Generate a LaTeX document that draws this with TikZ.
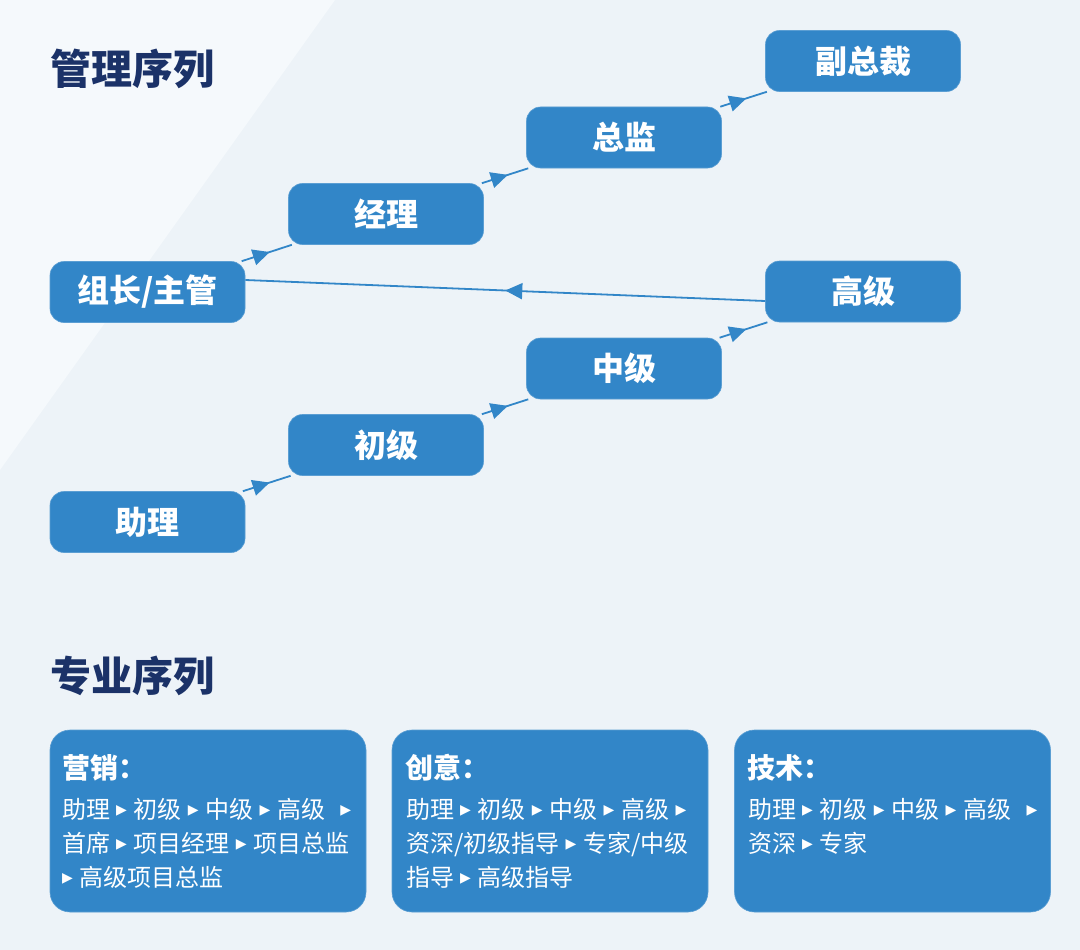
\documentclass[tikz,border=0pt]{standalone}
\usepackage{fontspec}
\setmainfont{Noto Sans CJK SC}
\newfontfamily\symfont{DejaVu Sans}
\usetikzlibrary{arrows.meta,decorations.markings,calc}
\definecolor{bgA}{HTML}{EDF3F8}
\definecolor{bgB}{HTML}{F5F9FC}
\definecolor{boxblue}{HTML}{3286C8}
\definecolor{navy}{HTML}{1B3268}
\newcommand\tri{\hspace{6pt}\raisebox{4pt}{\fontsize{14pt}{14pt}\selectfont\symfont ▶}\hspace{7pt}}
\begin{document}
\begin{tikzpicture}[x=1pt,y=-1pt,
  mgr/.style={fill=boxblue, draw=boxblue!80!white, line width=0.6pt, rounded corners=14pt,
    minimum width=195pt, minimum height=61pt, inner sep=0pt, text=white,
    font=\fontsize{32pt}{32pt}\selectfont\bfseries},
  link/.style={draw=boxblue, color=boxblue, line width=1.8pt, postaction={decorate},
    decoration={markings, mark=at position #1 with {\arrow{Triangle[length=17pt,width=16pt]}}}},
  link/.default=0.56,
  sect/.style={text=navy, inner sep=0pt, anchor=west, font=\fontsize{41pt}{41pt}\selectfont\bfseries},
  pbox/.style={fill=boxblue, draw=boxblue!80!white, line width=0.6pt, rounded corners=20pt,
    minimum width=316pt, minimum height=182pt, inner sep=0pt},
  ptitle/.style={text=white, inner sep=0pt, anchor=base west, font=\fontsize{28pt}{28pt}\selectfont\bfseries},
  pline/.style={text=white, inner sep=0pt, anchor=base west, font=\fontsize{24pt}{34pt}\selectfont}
]
\useasboundingbox (0,0) rectangle (1080,950);
\fill[bgA] (0,0) rectangle (1080,950);
\fill[bgB] (0,0) -- (335,0) -- (0,470) -- cycle;

% section titles
\node[sect] (t1) at (50,69) {管理序列};
\node[sect] (t2) at (50,676) {专业序列};

% management ladder
\node[mgr] (zz) at (147.5,292) {组长/主管};
\node[mgr] (jl) at (386,214) {经理};
\node[mgr] (zj) at (624,137.5) {总监};
\node[mgr] (fz) at (863,61) {副总裁};
\node[mgr] (gj) at (863,291.5) {高级};
\node[mgr] (zh) at (624,368.5) {中级};
\node[mgr] (cj) at (386,445) {初级};
\node[mgr] (zl) at (147.5,522) {助理};

\draw[link] (zz) -- (jl);
\draw[link] (jl) -- (zj);
\draw[link] (zj) -- (fz);
\draw[link] (zl) -- (cj);
\draw[link] (cj) -- (zh);
\draw[link] (zh) -- (gj);
\draw[link=0.5] ($(gj.west)+(0,9.5)$) -- ($(zz.east)+(0,-12)$);

% professional boxes
\node[pbox] (b1) at (208,821) {};
\node[pbox] (b2) at (550,821) {};
\node[pbox] (b3) at (892.5,821) {};

\node[ptitle] (b1t) at (62,778) {营销：};
\node[pline] (b1a) at (62,818) {助理\tri 初级\tri 中级\tri 高级\hspace{9pt}\tri};
\node[pline] (b1b) at (62,852) {首席\tri 项目经理\tri 项目总监};
\node[pline] (b1c) at (62,886) {\hspace{-6pt}\tri 高级项目总监};

\node[ptitle] (b2t) at (405,778) {创意：};
\node[pline] (b2a) at (406,818) {助理\tri 初级\tri 中级\tri 高级\tri};
\node[pline] (b2b) at (406,852) {资深/初级指导\tri 专家/中级};
\node[pline] (b2c) at (406,886) {指导\tri 高级指导};

\node[ptitle] (b3t) at (747,778) {技术：};
\node[pline] (b3a) at (748,818) {助理\tri 初级\tri 中级\tri 高级\hspace{9pt}\tri};
\node[pline] (b3b) at (748,852) {资深\tri 专家};
\end{tikzpicture}
\end{document}
